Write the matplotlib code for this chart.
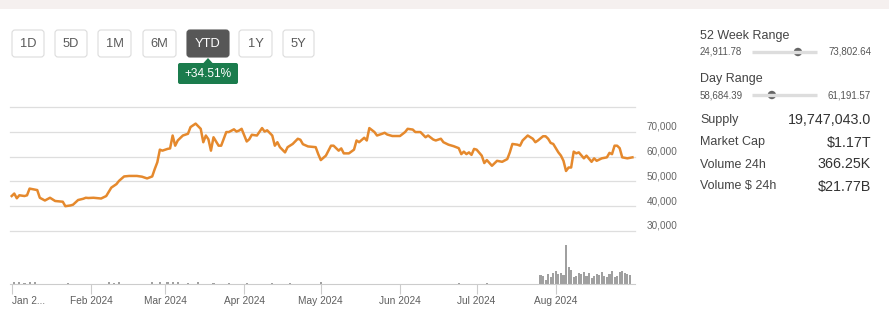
import matplotlib
matplotlib.use('Agg')
import matplotlib.pyplot as plt
import matplotlib.dates as mdates
from matplotlib.patches import FancyBboxPatch, Polygon, Rectangle, Circle
import pandas as pd

plt.rcParams['font.family'] = ['Liberation Sans', 'DejaVu Sans']

W, H = 889, 314

# --- data --------------------------------------------------------------
price_dates = [
    '2024-01-01', '2024-01-02', '2024-01-03', '2024-01-04', '2024-01-06', '2024-01-07',
    '2024-01-08', '2024-01-09', '2024-01-11', '2024-01-12', '2024-01-14', '2024-01-16',
    '2024-01-18', '2024-01-21', '2024-01-22', '2024-01-24', '2024-01-25', '2024-01-27',
    '2024-01-29', '2024-01-30', '2024-01-31', '2024-02-02', '2024-02-05', '2024-02-07',
    '2024-02-09', '2024-02-11', '2024-02-12', '2024-02-14', '2024-02-16', '2024-02-19',
    '2024-02-21', '2024-02-23', '2024-02-25', '2024-02-26', '2024-02-27', '2024-02-28',
    '2024-02-29', '2024-03-02', '2024-03-03', '2024-03-04', '2024-03-05', '2024-03-06',
    '2024-03-08', '2024-03-10', '2024-03-11', '2024-03-12', '2024-03-13', '2024-03-15',
    '2024-03-16', '2024-03-17', '2024-03-18', '2024-03-19', '2024-03-20', '2024-03-22',
    '2024-03-23', '2024-03-25', '2024-03-26', '2024-03-28', '2024-03-29', '2024-03-30',
    '2024-03-31', '2024-04-02', '2024-04-03', '2024-04-04', '2024-04-06', '2024-04-08',
    '2024-04-09', '2024-04-10', '2024-04-12', '2024-04-13', '2024-04-14', '2024-04-15',
    '2024-04-17', '2024-04-18', '2024-04-20', '2024-04-22', '2024-04-23', '2024-04-24',
    '2024-04-26', '2024-04-29', '2024-04-30', '2024-05-01', '2024-05-03', '2024-05-05',
    '2024-05-06', '2024-05-08', '2024-05-09', '2024-05-10', '2024-05-12', '2024-05-14',
    '2024-05-15', '2024-05-16', '2024-05-18', '2024-05-19', '2024-05-20', '2024-05-22',
    '2024-05-23', '2024-05-25', '2024-05-26', '2024-05-27', '2024-05-29', '2024-05-31',
    '2024-06-01', '2024-06-03', '2024-06-04', '2024-06-06', '2024-06-07', '2024-06-09',
    '2024-06-11', '2024-06-12', '2024-06-14', '2024-06-15', '2024-06-17', '2024-06-18',
    '2024-06-20', '2024-06-22', '2024-06-24', '2024-06-25', '2024-06-26', '2024-06-27',
    '2024-06-28', '2024-06-29', '2024-06-30', '2024-07-01', '2024-07-03', '2024-07-04',
    '2024-07-05', '2024-07-07', '2024-07-09', '2024-07-11', '2024-07-13', '2024-07-14',
    '2024-07-15', '2024-07-17', '2024-07-18', '2024-07-19', '2024-07-20', '2024-07-21',
    '2024-07-23', '2024-07-24', '2024-07-25', '2024-07-27', '2024-07-28', '2024-07-29',
    '2024-07-30', '2024-07-31', '2024-08-02', '2024-08-03', '2024-08-04', '2024-08-05',
    '2024-08-06', '2024-08-07', '2024-08-08', '2024-08-09', '2024-08-10', '2024-08-12',
    '2024-08-13', '2024-08-15', '2024-08-16', '2024-08-17', '2024-08-19', '2024-08-21',
    '2024-08-22', '2024-08-23', '2024-08-24', '2024-08-25', '2024-08-26', '2024-08-27',
    '2024-08-29', '2024-08-31',
]
price_values = [
    44100, 45100, 43200, 44400, 44100, 44400,
    47100, 46900, 46500, 43400, 42300, 43400,
    42100, 41800, 40000, 40300, 40600, 42500,
    43000, 43400, 43300, 43400, 43100, 44100,
    47500, 48900, 50200, 52000, 52200, 52200,
    51900, 51200, 52000, 55000, 57700, 62800,
    62400, 63100, 63300, 68500, 64400, 66500,
    68500, 69200, 71900, 72600, 73300, 71200,
    65800, 68500, 67000, 62400, 67800, 64400,
    64400, 69900, 69900, 71000, 70100, 70500,
    71200, 66100, 67000, 68800, 68500, 71500,
    70100, 70600, 68500, 64400, 65800, 63800,
    61700, 63800, 65100, 67200, 66800, 65000,
    64100, 63800, 61000, 58600, 60400, 64400,
    64400, 62400, 63300, 61300, 61300, 62800,
    66500, 65800, 67600, 66500, 71500, 69900,
    68500, 69200, 69600, 68900, 68300, 68300,
    68300, 69900, 71200, 70900, 69900, 69900,
    67800, 68500, 66900, 66500, 67200, 65800,
    64800, 64200, 63400, 61000, 62000, 61000,
    61700, 60700, 63100, 62800, 60400, 57400,
    58600, 56300, 58300, 57900, 59000, 61700,
    65100, 64800, 64400, 66500, 67500, 68500,
    67200, 65800, 66500, 68200, 68200, 67200,
    65500, 65100, 61700, 60400, 58300, 54200,
    55600, 55600, 62000, 61300, 61700, 59300,
    60400, 57900, 59300, 58300, 59300, 59700,
    61500, 61000, 64400, 64400, 63400, 59700,
    59300, 59700,
]

# sparse, tiny volume marks early in the year
vol_early_dates = [
    '2024-01-02', '2024-01-04', '2024-01-06', '2024-01-08', '2024-01-10', '2024-01-23',
    '2024-02-08', '2024-02-10', '2024-02-12', '2024-02-25', '2024-02-28', '2024-03-02',
    '2024-03-04', '2024-03-06', '2024-03-10', '2024-03-14', '2024-03-20', '2024-03-26',
    '2024-04-02', '2024-04-12', '2024-04-19', '2024-05-01', '2024-06-24', '2024-07-05',
]
vol_early_values = [5, 6, 4, 5, 6, 4, 5, 4, 5, 6, 5, 5, 6, 5, 4, 5, 4, 4, 4, 4, 4, 5, 4, 4]

# daily volume bars from late July
vol_late_start, vol_late_end = '2024-07-26', '2024-08-30'
vol_late_values = [28, 23, 12, 30, 22, 33, 38, 30, 32, 28,
                   118, 50, 43, 20, 25, 33, 30, 35, 25, 33,
                   18, 25, 30, 28, 35, 25, 20, 30, 40, 20,
                   25, 35, 40, 32, 30, 28]

grid_levels = [30000, 40000, 50000, 60000, 70000, 80000]
y_labels = [30000, 40000, 50000, 60000, 70000]
month_ticks = ['2024-01-01', '2024-02-01', '2024-03-01', '2024-04-01',
               '2024-05-01', '2024-06-01', '2024-07-01', '2024-08-01']
month_labels = ['Jan 2...', 'Feb 2024', 'Mar 2024', 'Apr 2024',
                'May 2024', 'Jun 2024', 'Jul 2024', 'Aug 2024']

buttons = ['1D', '5D', '1M', '6M', 'YTD', '1Y', '5Y']
active_button = 'YTD'
ytd_change = '+34.51%'

last_price = 59450
ranges = [('52 Week Range', 24911.78, 73802.64),
          ('Day Range', 58684.39, 61191.57)]
stats = [('Supply', '19,747,043.0'),
         ('Market Cap', '$1.17T'),
         ('Volume 24h', '366.25K'),
         ('Volume $ 24h', '$21.77B')]

LINE = '#e5892d'
GRID = '#dedede'

fig = plt.figure(figsize=(W / 100, H / 100), dpi=100, facecolor='white')

# overlay in pixel units for the widgets around the chart
ov = fig.add_axes([0, 0, 1, 1])
ov.set_xlim(0, W)
ov.set_ylim(H, 0)
ov.axis('off')
ov.add_patch(Rectangle((0, 0), W, 9, color='#f5f0ef', lw=0))

btn_x = [12, 55, 98, 143, 187, 239, 283]
btn_w = [32, 32, 33, 33, 42, 33, 31]
for name, bx, bw in zip(buttons, btn_x, btn_w):
    active = name == active_button
    ov.add_patch(FancyBboxPatch((bx, 30), bw, 27,
                                boxstyle='round,pad=0,rounding_size=3',
                                fc='#575757' if active else 'white',
                                ec='#575757' if active else '#dcdcdc', lw=0.8))
    ov.text(bx + bw / 2, 44, name, ha='center', va='center', fontsize=9.3,
            color='white' if active else '#5a5a5a')

# change badge under the active button
ov.add_patch(FancyBboxPatch((178, 63), 60, 21, boxstyle='round,pad=0,rounding_size=2',
                            fc='#1b7c4d', ec='none'))
ov.add_patch(Polygon([[203, 63.5], [208, 58], [213, 63.5]], closed=True,
                     fc='#1b7c4d', ec='none'))
ov.text(208, 74, ytd_change, ha='center', va='center', fontsize=8.6, color='white')

# right side panel
for i, (title, lo, hi) in enumerate(ranges):
    ty = 36 + i * 43
    ov.text(700, ty, title, ha='left', va='center', fontsize=9, color='#444444')
    sy = ty + 16
    ov.text(700, sy, f'{lo:,.2f}', ha='left', va='center', fontsize=7, color='#555555')
    ov.text(871, sy, f'{hi:,.2f}', ha='right', va='center', fontsize=7, color='#555555')
    ov.plot([752, 817], [sy, sy], color='#dddddd', lw=2.4, solid_capstyle='butt')
    kx = 752 + 65 * (last_price - lo) / (hi - lo)
    ov.add_patch(Circle((kx, sy), 4.2, fc='#666666', ec='none'))

for i, (label, value) in enumerate(stats):
    sy = 120.5 + i * 22
    ov.text(700, sy, label, ha='left', va='center', fontsize=9, color='#444444',
            parse_math=False)
    ov.text(871, sy, value, ha='right', va='center', fontsize=10.3, color='#333333',
            parse_math=False)

# price chart
px = pd.to_datetime(price_dates)
base = pd.Timestamp('2024-01-01')
xlim = (mdates.date2num(base - pd.Timedelta(hours=16)),
        mdates.date2num(base + pd.Timedelta(days=244)))

ax = fig.add_axes([10 / W, 1 - 231 / H, 625 / W, 124 / H])
ax.set_xlim(xlim)
ax.set_ylim(30000, 80000)
for lv in grid_levels:
    ax.axhline(lv, color=GRID, lw=0.9, clip_on=False, zorder=1)
ax.plot(px, price_values, color=LINE, lw=1.8, zorder=3, solid_joinstyle='round')
for lv in y_labels:
    ax.text(1.019, lv, f'{lv:,}', transform=ax.get_yaxis_transform(),
            ha='left', va='bottom', fontsize=7.2, color='#666666')
ax.axis('off')

# volume
vdates = list(pd.to_datetime(vol_early_dates)) + list(pd.date_range(vol_late_start, vol_late_end))
vvals = vol_early_values + vol_late_values
vax = fig.add_axes([10 / W, 1 - 284 / H, 625 / W, 53 / H])
vax.set_xlim(xlim)
vax.set_ylim(0, 160)
vax.bar(vdates, vvals, width=0.82, color='#a0a0a0', align='center')
for s in ['top', 'left', 'right']:
    vax.spines[s].set_visible(False)
vax.spines['bottom'].set_color('#cccccc')
vax.set_yticks([])
vax.set_xticks(pd.to_datetime(month_ticks))
vax.set_xticklabels(month_labels)
vax.tick_params(axis='x', length=7, width=0.8, color='#cccccc', labelsize=7.3,
                labelcolor='#5f5f5f', pad=1.5)
vax.get_xticklabels()[0].set_ha('left')
vax.set_facecolor('none')

fig.savefig('out.png', dpi=100, facecolor='white')
